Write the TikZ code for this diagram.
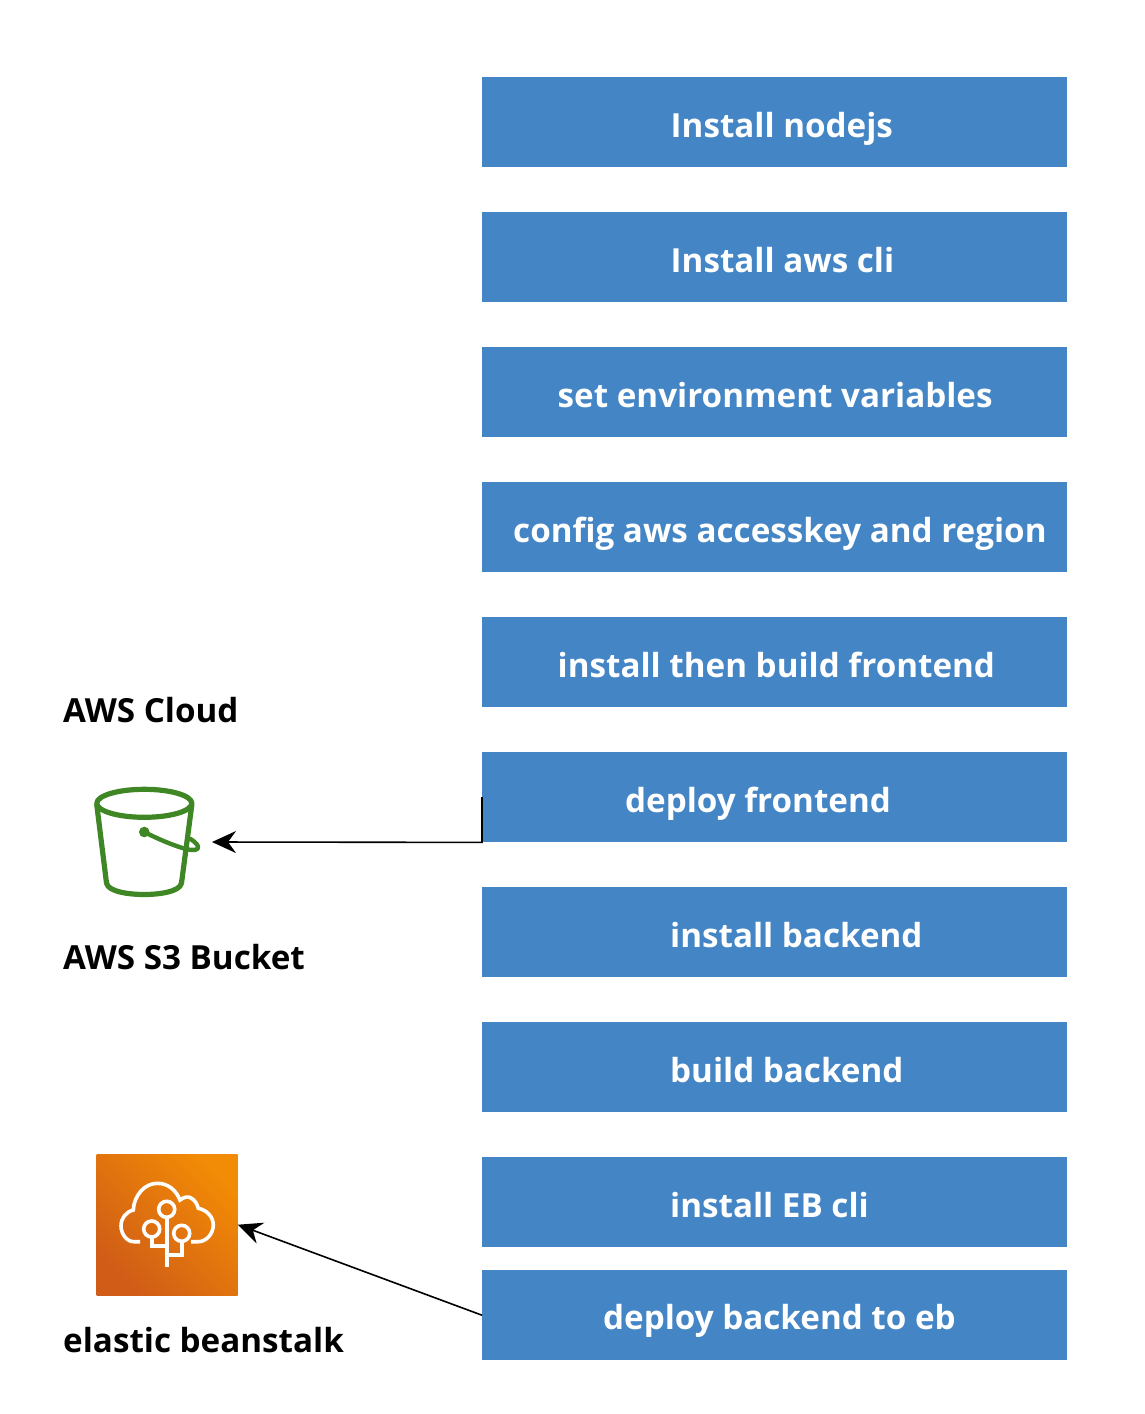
\documentclass[tikz,border=0pt]{standalone}
\usepackage{fontspec}
\setmainfont{Open Sans}
\usetikzlibrary{arrows.meta}
\definecolor{boxblue}{HTML}{4485C5}
\definecolor{bucketgreen}{HTML}{3F8624}
\definecolor{ebdark}{HTML}{D05C17}
\definecolor{eblight}{HTML}{F28B05}
\tikzset{
  stepbox/.style={draw=none,fill=boxblue,minimum width=585pt,minimum height=90pt,inner sep=0pt,anchor=north west},
  steptext/.style={text=white,font=\fontsize{33.2}{38}\selectfont\bfseries,anchor=base west,inner sep=0pt},
  caption/.style={text=black,font=\fontsize{33.2}{38}\selectfont\bfseries,anchor=base west,inner sep=0pt},
  link/.style={draw=black,line width=1.6pt,-{Stealth[length=24pt,width=22pt,inset=8pt]}},
  bucketline/.style={draw=bucketgreen,line width=5.2pt,line cap=round,line join=round},
  ebline/.style={draw=white,line width=3.6pt},
}
\begin{document}
\begin{tikzpicture}[x=1pt,y=-1pt]
\useasboundingbox (0,0) rectangle (1144,1414);
\node[stepbox] (b1) at (482,77) {};
\node[stepbox] (b2) at (482,212) {};
\node[stepbox] (b3) at (482,347) {};
\node[stepbox] (b4) at (482,482) {};
\node[stepbox] (b5) at (482,617) {};
\node[stepbox] (b6) at (482,752) {};
\node[stepbox] (b7) at (482,887) {};
\node[stepbox] (b8) at (482,1022) {};
\node[stepbox] (b9) at (482,1157) {};
\node[stepbox] (b10) at (482,1270) {};
\node[steptext] (t1) at (670.5,137) {Install nodejs};
\node[steptext] (t2) at (670.5,272) {Install aws cli};
\node[steptext] (t3) at (557.5,407) {set environment variables};
\node[steptext] (t4) at (513,542) {config aws accesskey and region};
\node[steptext] (t5) at (557.5,677) {install then build frontend};
\node[steptext] (t6) at (625,812) {deploy frontend};
\node[steptext] (t7) at (670,947) {install backend};
\node[steptext] (t8) at (670,1082) {build backend};
\node[steptext] (t9) at (670,1217) {install EB cli};
\node[steptext] (t10) at (603,1329.5) {deploy backend to eb};
\node[caption] (c1) at (63,722) {AWS Cloud};
\node[caption] (c2) at (63,969) {AWS S3 Bucket};
\node[caption] (c3) at (63,1352) {elastic beanstalk};
% bucket
\coordinate (bucketport) at (212,842);
\draw[bucketline] (144.3,803.3) ellipse [x radius=47.5,y radius=14];
\draw[bucketline] (96.8,805) -- (106.5,883) .. controls (108,892) and (130,894.5) .. (144.3,894.5) .. controls (158,894.5) and (180,892) .. (181.5,883) -- (191.8,805);
\fill[bucketgreen] (144.3,832) circle [radius=5.3];
\draw[bucketline,line width=4.4pt] (144.3,832) .. controls (160,840) and (175,846) .. (186,849) .. controls (194,851) and (199,850) .. (198,846.5) .. controls (197,843.5) and (193,840.5) .. (190.5,839);
% elastic beanstalk
\node[minimum width=141pt,minimum height=141pt,inner sep=0pt,anchor=north west,bottom color=ebdark,top color=eblight,shading angle=-45] (eb) at (96.5,1154) {};
\draw[ebline] (140,1241.7) -- (134,1241.7) .. controls (126,1241.7) and (121,1233) .. (121,1226) .. controls (121,1218) and (126,1212) .. (133.3,1210) .. controls (134,1195) and (145,1183.3) .. (157.3,1183.3) .. controls (168,1183.3) and (176,1190) .. (180,1200) .. controls (184,1197) and (188,1196) .. (191,1198) .. controls (195,1200) and (197,1204) .. (198.3,1208.3) .. controls (207,1210) and (213.3,1217) .. (213.3,1225) .. controls (213.3,1234) and (206,1241.7) .. (198.3,1241.7) -- (191,1241.7);
\draw[ebline] (166.7,1209.3) circle [radius=8];
\draw[ebline] (151.7,1229) circle [radius=8];
\draw[ebline] (181.7,1233.3) circle [radius=8];
\draw[ebline] (166.7,1217.3) -- (166.7,1266.7);
\draw[ebline] (151.7,1237) -- (151.7,1245.7) -- (166.7,1245.7);
\draw[ebline] (181.7,1241.3) -- (181.7,1255) -- (166.7,1255);
% connectors
\draw[link] (b6.west) -- (b6.south west) -- (bucketport);
\draw[link] (b10.west) -- (eb.east);
\end{tikzpicture}
\end{document}
